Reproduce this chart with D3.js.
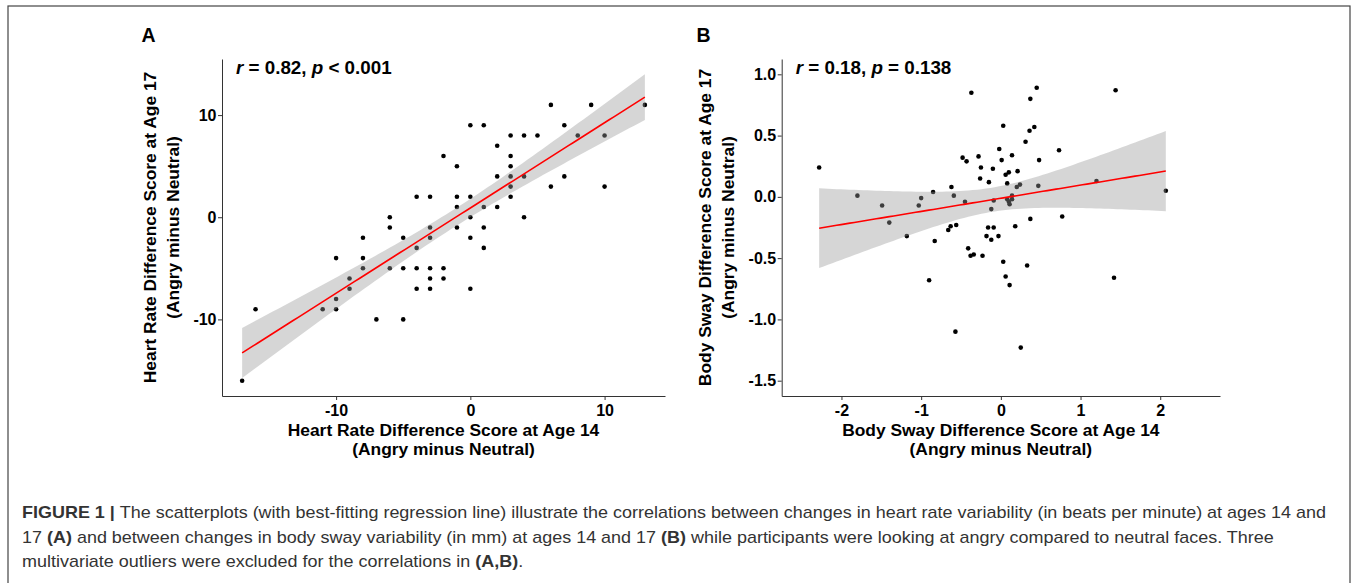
<html>
<head>
<meta charset="utf-8">
<script src='https://d3js.org/d3.v7.min.js'></script>
<style>
body { margin: 0; background: #fff; }
svg text { font-family: 'Liberation Sans', Arial, sans-serif; }
.axis path, .axis line { stroke: #333; stroke-width: 1px; }
.axis text { font-weight: bold; font-size: 16px; fill: #000; }
.title { font-weight: bold; font-size: 17.4px; fill: #000; }
.stat { font-weight: bold; font-size: 18.8px; fill: #000; }
.letter { font-weight: bold; font-size: 19.5px; fill: #000; }
.ribbon { fill: #999; opacity: 0.4; }
.fit { fill: none; stroke: #ff0000; stroke-width: 1.6px; }
.caption { font-family: 'Liberation Sans Narrow', 'Liberation Sans', Arial, sans-serif; font-size: 17px; fill: #333; }
</style>
</head>
<body>
<svg id="fig" width=1354 height=583></svg>
<script>
// Panel A: heart rate difference scores (bpm)
var hrAge14 = [-17,-16,-11,-10,-10,-10,-9,-9,-8,-8,-8,-7,-6,-6,-6,-5,-5,-5,-4,-4,-4,-4,-3,-3,-3,-3,-3,-3,
    -2,-2,-2,-1,-1,-1,-1,0,0,0,0,0,1,1,1,1,2,2,2,3,3,3,3,3,3,4,4,4,5,6,6,7,7,8,9,10,10,13];
var hrAge17 = [-16,-9,-9,-9,-8,-4,-7,-6,-5,-4,-2,-10,0,-1,-5,-2,-5,-10,-5,2,-3,-7,2,-1,-2,-5,-6,-7,
    6,-5,-6,5,2,1,-1,9,2,0,-2,-7,9,1,-1,-3,7,4,1,8,6,5,4,3,2,8,4,0,8,11,3,9,4,8,11,8,3,11];
var hrTicks = [-10, 0, 10];

// Panel B: body sway difference scores (mm)
var swayAge14 = [-2.28,-1.80,-1.49,-1.40,-1.18,-1.03,-1.00,-0.90,-0.85,-0.83,-0.66,-0.63,-0.62,-0.59,-0.56,-0.57,
    -0.48,-0.43,-0.45,-0.41,-0.38,-0.34,-0.37,-0.28,-0.25,-0.26,-0.23,-0.18,-0.16,-0.15,-0.12,-0.12,-0.09,-0.10,-0.09,-0.03,-0.02,
    0.01,0.03,0.03,0.06,0.08,0.06,0.10,0.08,0.10,0.11,0.11,0.14,0.14,0.14,0.18,0.20,0.21,0.24,0.25,
    0.31,0.33,0.36,0.37,0.37,0.42,0.45,0.48,0.47,0.73,0.77,1.20,1.42,1.44,2.07];
var swayAge17 = [0.24,0.01,-0.07,-0.21,-0.32,-0.07,-0.01,-0.68,0.04,-0.36,-0.27,-0.24,0.08,0.01,-0.23,-1.10,
    0.32,0.29,-0.04,-0.42,-0.48,-0.47,0.85,0.33,0.24,0.15,-0.48,-0.32,-0.25,0.12,-0.35,-0.10,-0.25,0.23,-0.03,-0.32,0.39,
    0.30,0.58,-0.53,0.18,0.11,-0.65,0.20,-0.02,-0.04,-0.06,-0.72,0.34,0.01,-0.02,-0.24,0.08,0.21,0.10,-1.23,
    0.45,-0.56,0.54,0.80,-0.18,0.57,0.89,0.30,0.09,0.38,-0.16,0.13,-0.66,0.87,0.05];
var swayXTicks = [-2, -1, 0, 1, 2];
var swayYTicks = [1.0, 0.5, 0.0, -0.5, -1.0, -1.5];
var swayXLim = [-2.5, 2.5];
var swayYLim = [-1.5, 1.0];

var captionLines = [
  [["FIGURE 1 | ", true], ["The scatterplots (with best-fitting regression line) illustrate the correlations between changes in heart rate variability (in beats per minute) at ages 14 and", false]],
  [["17 ", false], ["(A)", true], [" and between changes in body sway variability (in mm) at ages 14 and 17 ", false], ["(B)", true], [" while participants were looking at angry compared to neutral faces. Three", false]],
  [["multivariate outliers were excluded for the correlations in ", false], ["(A,B)", true], [".", false]]
];

var svg = d3.select('#fig');

// outer frame
svg.append('rect').attr('x', 8).attr('y', 6).attr('width', 1342).attr('height', 620)
  .attr('fill', 'none').attr('stroke', '#444').attr('stroke-width', 1.2);

// least squares fit + 95% band, evaluated like geom_smooth(method = "lm")
function lmFit(xs, ys) {
  var n = xs.length, mx = d3.mean(xs), my = d3.mean(ys);
  var sxx = 0, sxy = 0, sse = 0;
  for (var i = 0; i < n; i++) { sxx += (xs[i]-mx)*(xs[i]-mx); sxy += (xs[i]-mx)*(ys[i]-my); }
  var b = sxy / sxx, a = my - b * mx;
  for (var i = 0; i < n; i++) { var e = ys[i] - (a + b*xs[i]); sse += e*e; }
  var s = Math.sqrt(sse / (n - 2)), t = 1.997;
  var x0 = d3.min(xs), x1 = d3.max(xs);
  return d3.range(80).map(function(i) {
    var x = x0 + (x1 - x0) * i / 79, yh = a + b * x;
    var se = s * Math.sqrt(1/n + (x-mx)*(x-mx)/sxx);
    return {x: x, y: yh, lo: yh - t*se, hi: yh + t*se};
  });
}
function expand(lim) { var d = (lim[1]-lim[0]) * 0.05; return [lim[0]-d, lim[1]+d]; }
// plain hyphen for negatives, as in the figure
function fmt(digits) { return function(d) { return d.toFixed(digits); }; }

function panel(o) {
  var fit = lmFit(o.xs, o.ys);
  var xlim = o.xlim || d3.extent(o.xs);
  var ylim = o.ylim || [Math.min(d3.min(o.ys), d3.min(fit, function(d){return d.lo;})),
                        Math.max(d3.max(o.ys), d3.max(fit, function(d){return d.hi;}))];
  var x = d3.scaleLinear().domain(expand(xlim)).range([o.left, o.right]);
  var y = d3.scaleLinear().domain(expand(ylim)).range([o.bottom, o.top]);
  var g = svg.append('g');

  g.selectAll('circle').data(o.xs).enter().append('circle')
    .attr('cx', function(d){ return x(d); })
    .attr('cy', function(d, i){ return y(o.ys[i]); })
    .attr('r', 2.3).attr('fill', '#000');

  g.append('path').datum(fit).attr('class', 'ribbon')
    .attr('d', d3.area().x(function(d){return x(d.x);}).y0(function(d){return y(d.lo);}).y1(function(d){return y(d.hi);}));
  g.append('path').datum(fit).attr('class', 'fit')
    .attr('d', d3.line().x(function(d){return x(d.x);}).y(function(d){return y(d.y);}));

  g.append('g').attr('class', 'axis').attr('transform', 'translate(0,' + o.bottom + ')')
    .call(d3.axisBottom(x).tickValues(o.xticks).tickFormat(o.xfmt).tickSize(4).tickSizeOuter(0).tickPadding(5));
  g.append('g').attr('class', 'axis').attr('transform', 'translate(' + o.left + ',0)')
    .call(d3.axisLeft(y).tickValues(o.yticks).tickFormat(o.yfmt).tickSize(4).tickSizeOuter(0).tickPadding(1.5));

  var cx = (o.left + o.right) / 2, cy = (o.top + o.bottom) / 2;
  g.append('text').attr('class', 'title').attr('x', cx).attr('y', 435.5).attr('text-anchor', 'middle').text(o.xtitle);
  g.append('text').attr('class', 'title').attr('x', cx).attr('y', 455).attr('text-anchor', 'middle').text('(Angry minus Neutral)');
  g.append('text').attr('class', 'title').attr('text-anchor', 'middle')
    .attr('transform', 'translate(' + o.ytx[0] + ',' + cy + ') rotate(-90)').text(o.ytitle);
  g.append('text').attr('class', 'title').attr('text-anchor', 'middle')
    .attr('transform', 'translate(' + o.ytx[1] + ',' + cy + ') rotate(-90)').text('(Angry minus Neutral)');

  g.append('text').attr('class', 'letter').attr('x', o.letterX).attr('y', 42).text(o.letter);

  var st = g.append('text').attr('class', 'stat').attr('x', o.left + 14).attr('y', 73.5);
  st.append('tspan').attr('font-style', 'italic').text('r');
  st.append('tspan').text(' = ' + o.r + ', ');
  st.append('tspan').attr('font-style', 'italic').text('p');
  st.append('tspan').text(' ' + o.p);
}

panel({xs: hrAge14, ys: hrAge17, left: 222, right: 665, top: 59, bottom: 396,
  xticks: hrTicks, yticks: hrTicks, xfmt: fmt(0), yfmt: fmt(0),
  xtitle: 'Heart Rate Difference Score at Age 14', ytitle: 'Heart Rate Difference Score at Age 17',
  ytx: [156, 178.5], letter: 'A', letterX: 141.5, r: '0.82', p: '< 0.001'});

panel({xs: swayAge14, ys: swayAge17, left: 781.7, right: 1220, top: 59, bottom: 396,
  xlim: swayXLim, ylim: swayYLim,
  xticks: swayXTicks, yticks: swayYTicks, xfmt: fmt(0), yfmt: fmt(1),
  xtitle: 'Body Sway Difference Score at Age 14', ytitle: 'Body Sway Difference Score at Age 17',
  ytx: [711, 733.5], letter: 'B', letterX: 696.5, r: '0.18', p: '= 0.138'});

// caption, squeezed to the narrow face used in the figure
var lines = captionLines.map(function(parts, i) {
  var t = svg.append('text').attr('class', 'caption').attr('x', 22).attr('y', 518 + i * 24.5);
  parts.forEach(function(p) {
    t.append('tspan').attr('font-weight', p[1] ? 'bold' : null).text(p[0]);
  });
  return t;
});
var k = (1326 - 22) / lines[0].node().getComputedTextLength();
lines.forEach(function(t) {
  t.attr('textLength', t.node().getComputedTextLength() * k).attr('lengthAdjust', 'spacingAndGlyphs');
});
</script>
</body>
</html>
